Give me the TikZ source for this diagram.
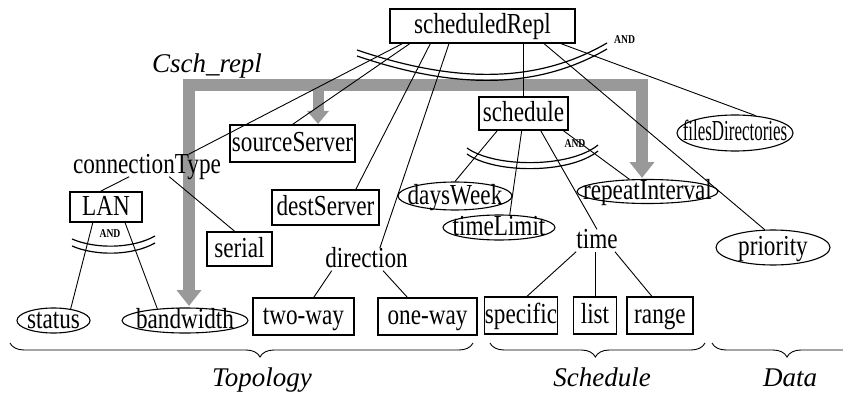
\documentclass[tikz,border=0pt]{standalone}
\usepackage{fontspec}
\setmainfont{Liberation Serif}[FakeStretch=0.8]
\newfontfamily\grpfont{Liberation Serif}
\usetikzlibrary{shapes.geometric,arrows.meta,calc,decorations.pathreplacing}
\begin{document}
\begin{tikzpicture}[x=1pt,y=-1pt,
  every node/.style={font=\fontsize{29}{32}\selectfont, inner sep=0pt, text height=19pt, text depth=3pt},
  box/.style={draw, line width=1.1pt, rectangle, minimum width=#1},
  ell/.style={draw, line width=1.1pt, ellipse, inner xsep=-40pt, inner ysep=-20pt},
  conn/.style={line width=0.9pt},
  andarc/.style={line width=1.2pt},
  andlbl/.style={font=\fontsize{12}{13}\selectfont\bfseries, anchor=base},
  grp/.style={font=\fontsize{27}{30}\grpfont\itshape, anchor=base},
  band/.style={line width=12pt, draw=gray!80, line join=miter},
  bracedec/.style={decorate, decoration={brace, mirror, amplitude=14pt, aspect=#1}, line width=0.9pt},
]
\useasboundingbox (0,0) rectangle (843,393);

% ---------- shaded band ----------
\coordinate (bandR) at (642,85);
\coordinate (bandL) at (189,85);
\coordinate (bandM) at (318,85);
\coordinate (tipR) at (642,178);
\coordinate (tipL) at (189,306);
\coordinate (tipM) at (318,124);
\draw[band, {Triangle[width=24pt,length=16pt]}-{Triangle[width=24pt,length=16pt]}] (tipR) -- (bandR) -- (bandL) -- (tipL);
\draw[band, line width=11pt, -{Triangle[width=21pt,length=13pt]}] (bandM) -- (tipM);

% ---------- nodes ----------
\node[box=185pt, minimum height=34pt] (sR) at (482.5,26) {scheduledRepl};
\node[box=89pt, minimum height=33pt] (sch) at (523.5,113.5) {schedule};
\node[box=125pt, minimum height=37pt] (src) at (292.5,143.5) {sourceServer};
\node[box=107pt, minimum height=35pt] (dst) at (325.5,207.5) {destServer};
\node[box=72pt, minimum height=30pt] (lan) at (106,207) {LAN};
\node[box=65pt, minimum height=34pt] (ser) at (239.5,249) {serial};
\node[box=101pt, minimum height=37pt] (two) at (303.5,316.5) {two-way};
\node[box=99pt, minimum height=37pt] (one) at (427.5,316.5) {one-way};
\node[box=72pt, minimum height=37pt] (spec) at (521,315.5) {specific};
\node[box=43pt, minimum height=37pt] (list) at (595,315.5) {list};
\node[box=66pt, minimum height=37pt] (rng) at (660,315.5) {range};

\node[ell, minimum width=73pt, minimum height=25pt] (st) at (53.5,320.5) {status};
\node[ell, minimum width=126pt, minimum height=25pt] (bw) at (185,320.5) {bandwidth};
\node[ell, minimum width=114pt, minimum height=28pt] (dw) at (455,196) {daysWeek};
\node[ell, minimum width=112pt, minimum height=25pt] (tl) at (499,227.5) {timeLimit};
\node[ell, minimum width=141pt, minimum height=24pt] (ri) at (647.5,191.5) {repeatInterval};
\node[ell, minimum width=116pt, minimum height=36pt] (fd) at (735,133) {\scalebox{0.73}[1]{filesDirectories}};
\node[ell, minimum width=114pt, minimum height=35pt] (pr) at (773,247.5) {priority};

\node (ct) at (147,165.5) {connectionType};
\node (dir) at (366.5,259.5) {direction};
\node (tm) at (597,240.5) {time};

\node[grp] (csch) at (207,73) {Csch\_repl};
\node[grp] (topo) at (262,386) {Topology};
\node[grp] (schl) at (602,386) {Schedule};
\node[grp] (data) at (790,386) {Data};

% ---------- connectors ----------
\draw[conn] ($(sR.south west)!0.07!(sR.south east)$) -- ($(ct.north west)!0.78!(ct.north east)$);
\draw[conn] ($(sR.south west)!0.11!(sR.south east)$) -- (src.north);
\draw[conn] ($(sR.south west)!0.22!(sR.south east)$) -- ($(dst.north west)!0.78!(dst.north east)$);
\draw[conn] ($(sR.south west)!0.32!(sR.south east)$) -- ($(dir.north west)!0.66!(dir.north east)$);
\draw[conn] (sch.north |- sR.south) -- (sch.north);
\draw[conn] ($(sR.south west)!0.83!(sR.south east)$) -- (pr.115);
\draw[conn] ($(sR.south west)!0.92!(sR.south east)$) -- (fd.40);

\draw[conn] ($(sch.south west)!0.21!(sch.south east)$) -- (dw.north);
\draw[conn] ($(sch.south west)!0.48!(sch.south east)$) -- (tl.50);
\draw[conn] ($(sch.south west)!0.69!(sch.south east)$) -- (tm.north);
\draw[conn] ($(sch.south west)!0.94!(sch.south east)$) -- (ri.146);

\draw[conn] ($(ct.south west)!0.38!(ct.south east)$) -- ($(lan.north west)!0.42!(lan.north east)$);
\draw[conn] ($(ct.south west)!0.65!(ct.south east)$) -- ($(ser.north west)!0.43!(ser.north east)$);

\draw[conn] ($(lan.south west)!0.32!(lan.south east)$) -- (st.34);
\draw[conn] ($(lan.south west)!0.76!(lan.south east)$) -- (bw.157);

\draw[conn] ($(dir.south west)!0.08!(dir.south east)$) -- ($(two.north west)!0.6!(two.north east)$);
\draw[conn] ($(dir.south west)!0.7!(dir.south east)$) -- ($(one.north west)!0.3!(one.north east)$);

\draw[conn] (tm.south west) -- ($(spec.north west)!0.58!(spec.north east)$);
\draw[conn] (list.north |- tm.south) -- (list.north);
\draw[conn] ($(tm.south west)!0.93!(tm.south east)$) -- ($(rng.north west)!0.38!(rng.north east)$);

% ---------- AND arcs ----------
\draw[andarc] (357,50) .. controls (460,85) and (540,82) .. (607,43);
\draw[andarc] (357,56) .. controls (460,91) and (540,88) .. (607,49);
\node[andlbl, anchor=base west] (and1) at (614,44) {AND};

\draw[andarc] (467,148) .. controls (495,168) and (570,168) .. (598,145);
\draw[andarc] (467,154) .. controls (495,174) and (570,174) .. (598,151);
\node[andlbl] (and2) at (575,147) {AND};

\draw[andarc] (72,239) .. controls (95,249) and (132,249) .. (155,236);
\draw[andarc] (72,246) .. controls (95,256) and (132,256) .. (155,243);
\node[andlbl] (and3) at (110,237) {AND};

% ---------- braces ----------
\coordinate (b1l) at (10,343);  \coordinate (b1r) at (473,343);
\coordinate (b2l) at (490,343); \coordinate (b2r) at (705,343);
\coordinate (b3l) at (712,343); \coordinate (b3r) at (862,343);
\draw[bracedec=0.54] (b1l) -- (b1r);
\draw[bracedec=0.49] (b2l) -- (b2r);
\draw[bracedec=0.5] (b3l) -- (b3r);
\end{tikzpicture}
\end{document}
